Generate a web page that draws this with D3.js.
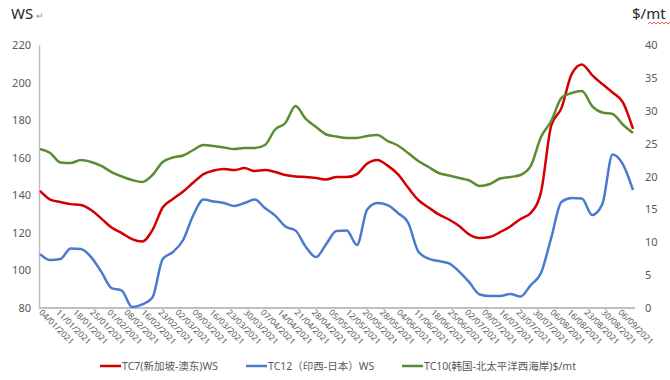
<!DOCTYPE html>
<html>
<head>
<meta charset="utf-8">
<script src="https://cdn.jsdelivr.net/npm/d3@7"></script>
<style>
  body { margin: 0; background: #fff; }
  svg text { font-family: "Noto Sans", "Noto Sans CJK SC", sans-serif; }
</style>
</head>
<body>
<div id="VisContainer"></div>
<script>
// x-axis tick labels, one every 5 trading days
tickLabels = ["04/01/2021","11/01/2021","18/01/2021","25/01/2021","01/02/2021","08/02/2021",
  "16/02/2021","23/02/2021","02/03/2021","09/03/2021","16/03/2021","23/03/2021","30/03/2021",
  "07/04/2021","14/04/2021","21/04/2021","28/04/2021","05/05/2021","12/05/2021","20/05/2021",
  "28/05/2021","04/06/2021","11/06/2021","18/06/2021","25/06/2021","02/07/2021","09/07/2021",
  "16/07/2021","23/07/2021","30/07/2021","06/08/2021","16/08/2021","23/08/2021","30/08/2021",
  "06/09/2021"];
totalDays = 175;
// values sampled every 3 trading days
sampleStep = 3;

// TC7 (WS, left axis)
tc7 = [142.3,137.7,136.4,135.3,134.8,132.2,127.6,122.8,119.9,116.7,115.4,121.5,133.5,138.0,142.0,
  146.8,151.3,153.2,154.0,153.4,154.5,152.9,153.4,152.4,150.8,150.0,149.7,149.2,148.4,149.7,149.7,
  151.3,156.9,158.8,155.8,151.3,144.1,137.5,133.5,129.8,127.1,123.6,119.1,117.3,117.8,120.4,123.4,
  127.4,130.6,141.7,177.1,186.4,204.5,209.6,204.0,199.2,194.7,189.6,175.3];
// TC12 (WS, left axis)
tc12 = [108.7,105.5,106.1,111.7,111.4,107.1,99.2,90.6,89.3,80.5,81.9,85.6,106.1,109.8,116.2,
  129.5,137.7,136.7,135.9,134.3,135.9,137.7,133.2,129.2,123.4,121.2,112.5,107.1,114.1,121.0,121.2,
  113.5,132.4,135.9,134.8,130.6,125.5,110.1,106.3,105.0,103.7,99.4,93.6,87.2,86.4,86.4,87.5,
  86.1,92.2,98.6,117.3,136.4,138.5,138.3,129.5,135.3,161.7,156.6,142.8];
// TC10 ($/mt, right axis)
tc10 = [24.18,23.57,22.13,22.05,22.51,22.21,21.60,20.68,20.00,19.47,19.16,20.23,22.21,22.89,23.19,
  24.03,24.79,24.64,24.41,24.18,24.33,24.33,24.79,27.15,28.14,30.72,28.75,27.53,26.39,26.08,25.86,
  25.86,26.16,26.31,25.40,24.71,23.57,22.36,21.44,20.53,20.15,19.77,19.39,18.56,18.86,19.70,19.92,
  20.23,21.60,26.01,28.44,31.94,32.70,33.00,30.72,29.73,29.51,27.91,26.62];

leftTicks = [80,100,120,140,160,180,200,220];
rightTicks = [0,5,10,15,20,25,30,35,40];

seriesList = [
  {name: "TC7(新加坡-澳东)WS", values: tc7, axis: "left", color: "#d40000"},
  {name: "TC12（印西-日本）WS", values: tc12, axis: "left", color: "#4a7bd0"},
  {name: "TC10(韩国-北太平洋西海岸)$/mt", values: tc10, axis: "right", color: "#5b8c32"}
];

width = 670;
height = 380;
plot = {left: 40, right: 633, top: 45, bottom: 308};
axisGrey = "#bfbfbf";
textGrey = "#595959";

svg = d3.select("#VisContainer").append("svg")
  .attr("width", width)
  .attr("height", height);

x = d3.scaleLinear().domain([0, totalDays - 1]).range([plot.left, plot.right]);
yL = d3.scaleLinear().domain([80, 220]).range([plot.bottom, plot.top]);
yR = d3.scaleLinear().domain([0, 40]).range([plot.bottom, plot.top]);

// axis titles
svg.append("text").attr("x", 11).attr("y", 19)
  .style("font-size", "15px").attr("fill", "#262626").text("WS");
svg.append("text").attr("x", 36).attr("y", 19)
  .style("font-size", "9px").attr("fill", "#8a8a8a").text("↵");
svg.append("text").attr("x", 632).attr("y", 19)
  .style("font-size", "15px").attr("fill", "#262626").text("$/mt");
// spell-check squiggle under "mt"
squiggle = d3.range(0, 12).map(function(i){ return [648 + i*2, i % 2 ? 22 : 24]; });
svg.append("path").attr("d", d3.line()(squiggle))
  .attr("fill", "none").attr("stroke", "#e03030").attr("stroke-width", 0.8);

// left axis
gLeft = svg.append("g").attr("transform", "translate(" + (plot.left - 1) + ",0)")
  .call(d3.axisLeft(yL).tickValues(leftTicks).tickSize(0).tickPadding(8));
gLeft.select(".domain").attr("stroke", axisGrey).attr("stroke-width", 1.5);
gLeft.selectAll("text").style("font-size", "11px").attr("fill", textGrey);

// right axis (labels only)
gRight = svg.append("g").attr("transform", "translate(" + (plot.right + 10) + ",0)")
  .call(d3.axisRight(yR).tickValues(rightTicks).tickSize(0).tickPadding(2));
gRight.select(".domain").remove();
gRight.selectAll("text").style("font-size", "11px").attr("fill", textGrey);

// bottom axis with rotated date labels
gBottom = svg.append("g").attr("transform", "translate(0," + plot.bottom + ")")
  .call(d3.axisBottom(x)
    .tickValues(tickLabels.map(function(d,i){ return i*5; }))
    .tickFormat(function(d){ return tickLabels[d/5]; })
    .tickSize(0).tickSizeOuter(0));
gBottom.select(".domain").attr("stroke", axisGrey).attr("stroke-width", 2)
  .attr("d", "M" + (plot.left - 1) + ",0H" + (plot.right + 2));
gBottom.selectAll("text")
  .style("font-size", "8.5px").attr("fill", textGrey)
  .attr("text-anchor", "start")
  .attr("dy", null).attr("y", 0)
  .attr("transform", function(){ return "translate(-2,5) rotate(45)"; });

// lines
lineFor = function(s){
  var yScale = s.axis == "left" ? yL : yR;
  return d3.line()
    .x(function(d,i){ return x(i*sampleStep); })
    .y(function(d){ return yScale(d); })
    .curve(d3.curveMonotoneX);
};

svg.selectAll("path.series")
  .data(seriesList)
  .enter().append("path")
  .attr("class", "series")
  .attr("fill", "none")
  .attr("stroke", function(d){ return d.color; })
  .attr("stroke-width", 2.5)
  .attr("stroke-linejoin", "round")
  .attr("d", function(d){ return lineFor(d)(d.values); });

// legend
legendX = [100, 246, 402];
legend = svg.selectAll("g.legend")
  .data(seriesList)
  .enter().append("g")
  .attr("class", "legend")
  .attr("transform", function(d,i){ return "translate(" + legendX[i] + ",366)"; });
legend.append("line")
  .attr("x1", 0).attr("x2", 21).attr("y1", 0).attr("y2", 0)
  .attr("stroke", function(d){ return d.color; })
  .attr("stroke-width", 2.5);
legend.append("text")
  .attr("x", 22).attr("y", 4)
  .style("font-size", "10.5px").attr("fill", textGrey)
  .text(function(d){ return d.name; });
</script>
</body>
</html>
